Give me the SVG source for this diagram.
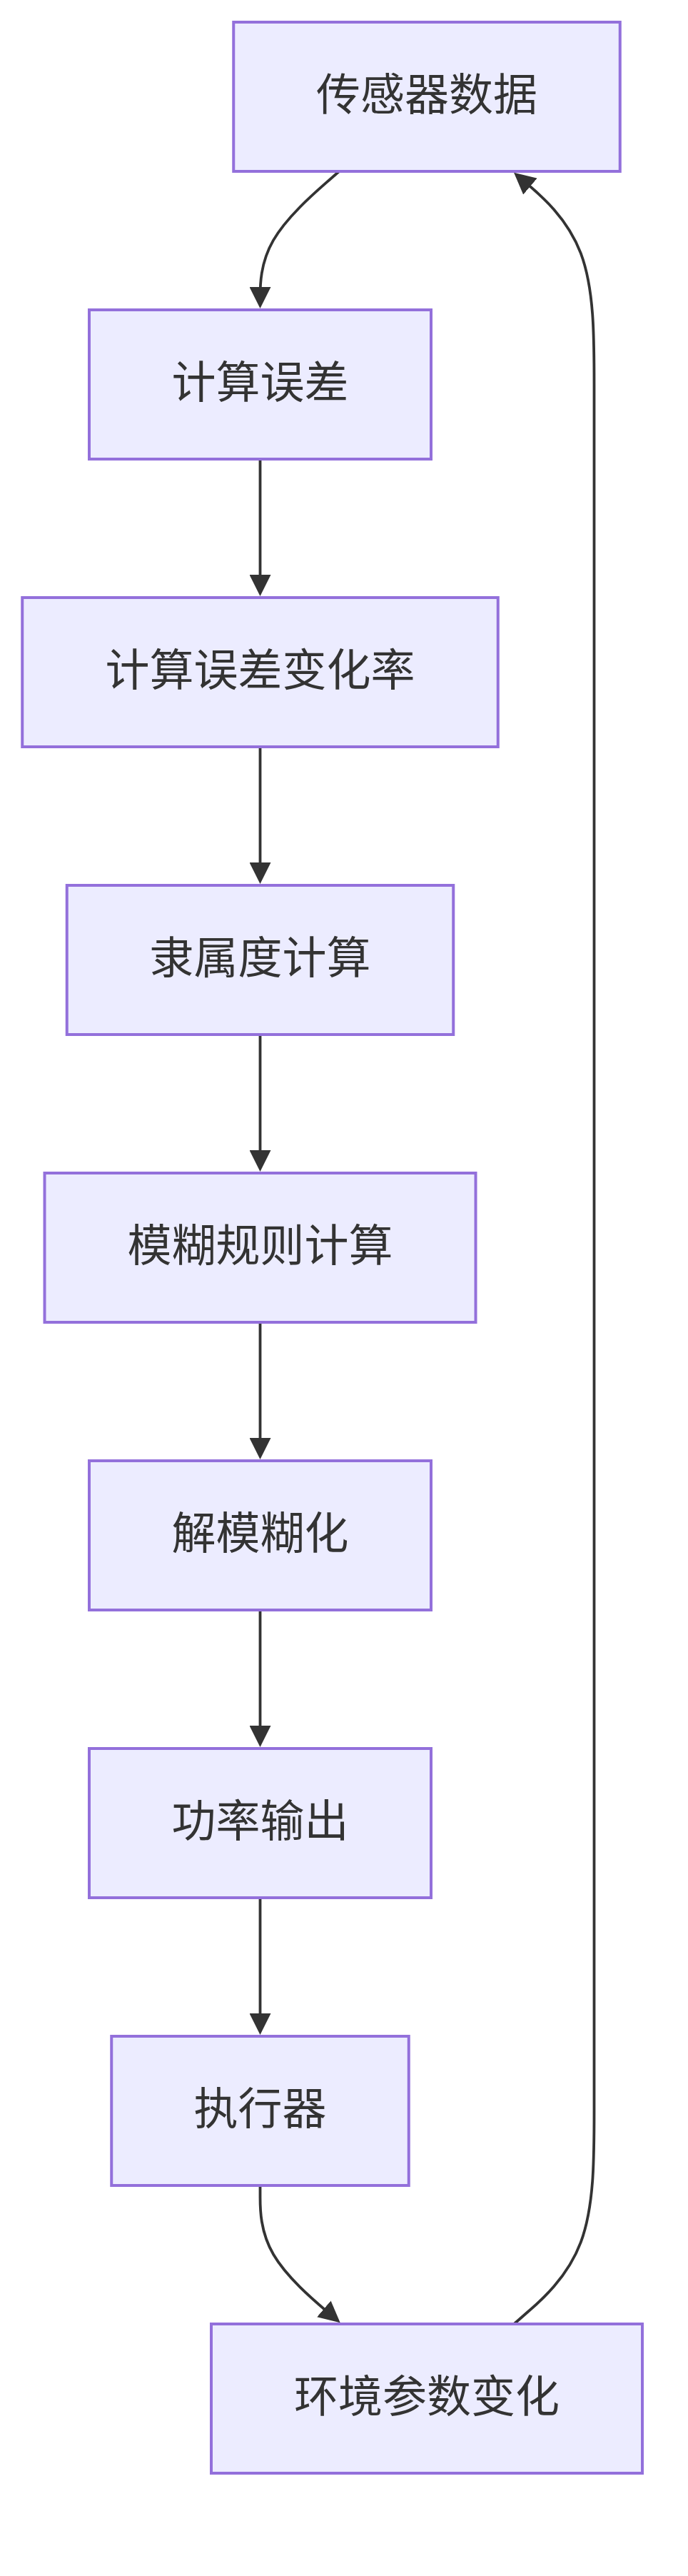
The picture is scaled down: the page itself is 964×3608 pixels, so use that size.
<svg xmlns="http://www.w3.org/2000/svg" width="964" height="3608" viewBox="0 0 964 3608">
<style>
.node rect{fill:#ECECFF;stroke:#9370DB;stroke-width:4}
.node text{font-family:"Noto Sans CJK SC","Noto Sans",sans-serif;font-size:62px;fill:#333333;text-anchor:middle}
.edge{fill:none;stroke:#333333;stroke-width:3.8;marker-end:url(#arrow)}
</style>
<defs>
<marker id="arrow" viewBox="0 0 10 10" refX="8" refY="5" markerWidth="30" markerHeight="30" markerUnits="userSpaceOnUse" orient="auto">
<path d="M0,0 L10,5 L0,10 z" fill="#333333"/>
</marker>
</defs>
<rect width="964" height="3608" fill="#ffffff"/>
<g id="connectors">
<path class="edge" d="M475.2,240 L456.75,256.17 C438.3,272.33 401.4,304.67 382.95,336.67 C364.5,368.67 364.5,400.33 364.5,416.17 L364.5,426"/>
<path class="edge" d="M364.5,643 L364.5,829"/>
<path class="edge" d="M364.5,1046 L364.5,1232"/>
<path class="edge" d="M364.5,1449 L364.5,1635"/>
<path class="edge" d="M364.5,1852 L364.5,2038"/>
<path class="edge" d="M364.5,2255 L364.5,2441"/>
<path class="edge" d="M364.5,2658 L364.5,2844"/>
<path class="edge" d="M364.5,3061 L364.5,3077.4 C364.5,3093.5 364.5,3125.8 383.2,3157.8 C401.9,3189.8 439.3,3221.5 458,3237.4 L472.1,3249.4"/>
<path class="edge" d="M720,3255.3 L738.75,3238.8 C757.5,3222.7 795,3190.3 813.75,3140.6 C832.5,3090.8 832.5,3023.7 832.5,2956.5 L832.5,538.5 C832.5,471.3 832.5,404.2 813.75,354.7 C795,305.2 757.5,273.5 738.75,257.6 L724.6,245.6"/>
</g>
<g id="node1" class="node"><rect x="327.25" y="31" width="541.5" height="209"/><text x="598" y="155">传感器数据</text></g>
<g id="node2" class="node"><rect x="125" y="434" width="479" height="209"/><text x="364.5" y="558">计算误差</text></g>
<g id="node3" class="node"><rect x="31.25" y="837" width="666.5" height="209"/><text x="364.5" y="961">计算误差变化率</text></g>
<g id="node4" class="node"><rect x="93.75" y="1240" width="541.5" height="209"/><text x="364.5" y="1364">隶属度计算</text></g>
<g id="node5" class="node"><rect x="62.5" y="1643" width="604" height="209"/><text x="364.5" y="1767">模糊规则计算</text></g>
<g id="node6" class="node"><rect x="125" y="2046" width="479" height="209"/><text x="364.5" y="2170">解模糊化</text></g>
<g id="node7" class="node"><rect x="125" y="2449" width="479" height="209"/><text x="364.5" y="2573">功率输出</text></g>
<g id="node8" class="node"><rect x="156.25" y="2852" width="416.5" height="209"/><text x="364.5" y="2976">执行器</text></g>
<g id="node9" class="node"><rect x="296" y="3255" width="604" height="209"/><text x="598" y="3379">环境参数变化</text></g>
</svg>
